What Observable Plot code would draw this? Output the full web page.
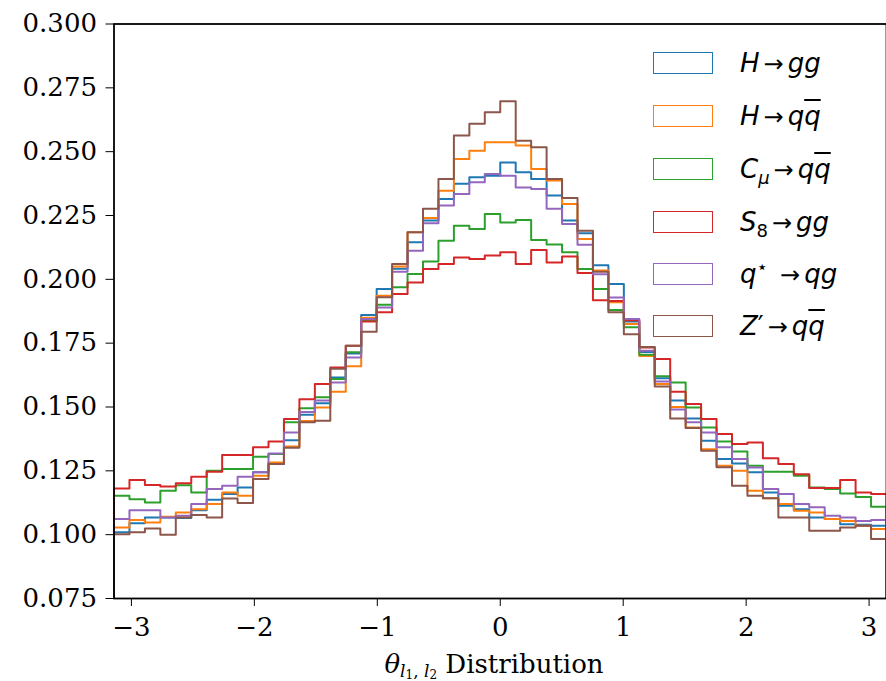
<!DOCTYPE html>
<html>
<head>
<meta charset="utf-8">
<script src="https://cdn.jsdelivr.net/npm/d3@7"></script>
<script src="https://cdn.jsdelivr.net/npm/@observablehq/plot@0.6"></script>
<style>
  body { margin: 0; background: #fff; }
  #wrap { position: relative; width: 886px; height: 681px; overflow: hidden; background: #fff; }
  .row { position: absolute; left: 653px; height: 40px; display: flex; align-items: center; }
  .box { width: 60px; height: 22px; box-sizing: border-box; border: 1.8px solid; }
  .lab { position: absolute; left: 87px; white-space: nowrap; font-family: "DejaVu Sans", sans-serif; font-size: 26px; color: #000; }
  .lab i { font-style: italic; }
  .ov { text-decoration: overline; }
  .ar { margin: 0 4px; font-size: 24px; }
  sub, sup { font-size: 18px; line-height: 0; }
</style>
</head>
<body>
<div id="wrap"></div>
<script>
// ---- data (bin heights; 50 bins on [-pi, pi]) ----
const names = ["H→gg", "H→qq̄", "Cμ→qq̄", "S8→gg", "q*→qg", "Z′→qq̄"];
const colors = ["#1f77b4", "#ff7f0e", "#2ca02c", "#d62728", "#9467bd", "#8c564b"];

const hgg = [0.1009, 0.1045, 0.1067, 0.1067, 0.1065, 0.1096, 0.1137, 0.1159, 0.1185, 0.1244,
  0.1277, 0.1370, 0.1470, 0.1515, 0.1616, 0.1710, 0.1860, 0.1962, 0.2041, 0.2145,
  0.2230, 0.2315, 0.2374, 0.2400, 0.2406, 0.2458, 0.2419, 0.2393, 0.2328, 0.2230,
  0.2180, 0.2055, 0.1982, 0.1835, 0.1715, 0.1613, 0.1525, 0.1455, 0.1368, 0.1296,
  0.1279, 0.1244, 0.1165, 0.1113, 0.1100, 0.1067, 0.1061, 0.1041, 0.1039, 0.1035];
const hqq = [0.1028, 0.1057, 0.1048, 0.1070, 0.1087, 0.1100, 0.1120, 0.1165, 0.1152, 0.1231,
  0.1283, 0.1345, 0.1445, 0.1498, 0.1560, 0.1660, 0.1850, 0.1936, 0.2050, 0.2184,
  0.2240, 0.2347, 0.2471, 0.2504, 0.2537, 0.2537, 0.2524, 0.2432, 0.2387, 0.2295,
  0.2158, 0.2035, 0.1910, 0.1825, 0.1700, 0.1590, 0.1500, 0.1420, 0.1335, 0.1270,
  0.1250, 0.1172, 0.1143, 0.1120, 0.1094, 0.1087, 0.1061, 0.1054, 0.1035, 0.1022];
const cmu = [0.1152, 0.1139, 0.1126, 0.1172, 0.1194, 0.1165, 0.1250, 0.1257, 0.1257, 0.1305,
  0.1316, 0.1440, 0.1495, 0.1538, 0.1610, 0.1714, 0.1840, 0.1900, 0.1969, 0.2021,
  0.2070, 0.2151, 0.2210, 0.2197, 0.2256, 0.2223, 0.2232, 0.2154, 0.2136, 0.2106,
  0.2040, 0.1962, 0.1880, 0.1812, 0.1705, 0.1620, 0.1596, 0.1498, 0.1420, 0.1365,
  0.1326, 0.1270, 0.1246, 0.1246, 0.1231, 0.1185, 0.1179, 0.1161, 0.1148, 0.1109];
const s8 = [0.1181, 0.1214, 0.1195, 0.1189, 0.1201, 0.1227, 0.1246, 0.1312, 0.1312, 0.1342,
  0.1365, 0.1453, 0.1530, 0.1590, 0.1655, 0.1740, 0.1835, 0.1871, 0.1943, 0.1988,
  0.2040, 0.2060, 0.2086, 0.2080, 0.2093, 0.2106, 0.2060, 0.2115, 0.2066, 0.2089,
  0.2025, 0.1918, 0.1915, 0.1840, 0.1733, 0.1688, 0.1560, 0.1512, 0.1453, 0.1394,
  0.1355, 0.1361, 0.1299, 0.1277, 0.1237, 0.1183, 0.1183, 0.1214, 0.1165, 0.1159];
const qstar = [0.1061, 0.1096, 0.1096, 0.1067, 0.1074, 0.1120, 0.1179, 0.1192, 0.1227, 0.1244,
  0.1318, 0.1400, 0.1480, 0.1525, 0.1596, 0.1694, 0.1845, 0.1890, 0.2030, 0.2112,
  0.2220, 0.2289, 0.2334, 0.2380, 0.2413, 0.2406, 0.2360, 0.2354, 0.2276, 0.2217,
  0.2135, 0.2020, 0.1929, 0.1845, 0.1720, 0.1600, 0.1490, 0.1440, 0.1400, 0.1342,
  0.1296, 0.1263, 0.1179, 0.1159, 0.1120, 0.1107, 0.1074, 0.1067, 0.1054, 0.1057];
const zprime = [0.1002, 0.1009, 0.1024, 0.1000, 0.1067, 0.1077, 0.1067, 0.1142, 0.1124, 0.1218,
  0.1277, 0.1340, 0.1440, 0.1446, 0.1650, 0.1740, 0.1795, 0.1930, 0.2060, 0.2184,
  0.2276, 0.2393, 0.2563, 0.2609, 0.2654, 0.2697, 0.2543, 0.2517, 0.2393, 0.2319,
  0.2190, 0.2030, 0.1871, 0.1785, 0.1735, 0.1580, 0.1455, 0.1418, 0.1329, 0.1264,
  0.1192, 0.1152, 0.1143, 0.1067, 0.1067, 0.1015, 0.1015, 0.1028, 0.1035, 0.0983];

const xTicks = [-3, -2, -1, 0, 1, 2, 3];
const yTicks = [0.075, 0.100, 0.125, 0.150, 0.175, 0.200, 0.225, 0.250, 0.275, 0.300];

// ---- build step outlines (histtype="step") ----
const lo = -Math.PI, hi = Math.PI;
const allSeries = [hgg, hqq, cmu, s8, qstar, zprime];
const nb = hgg.length;
const edges = d3.range(nb + 1).map(i => lo + (hi - lo) * i / nb);
const rows = [];
allSeries.forEach((vals, si) => {
  const s = names[si];
  rows.push({x: lo, y: 0, s});
  vals.forEach((v, i) => rows.push({x: edges[i], y: v, s}));
  rows.push({x: hi, y: vals[vals.length - 1], s});
  rows.push({x: hi, y: 0, s});
});

const chart = Plot.plot({
  width: 886,
  height: 681,
  marginTop: 23.5,
  marginBottom: 83,
  marginLeft: 113.5,
  marginRight: 0,
  style: {fontFamily: '"DejaVu Serif", serif', fontSize: "26px", color: "#000", background: "#fff"},
  x: {domain: [lo, hi], ticks: xTicks, tickFormat: d => d < 0 ? "\u2212" + Math.abs(d) : String(d),
      label: null, tickSize: 8, tickPadding: 11},
  y: {domain: [0.075, 0.3], ticks: yTicks, tickFormat: d3.format(".3f"), label: null, tickSize: 8, tickPadding: 9},
  color: {domain: names, range: colors},
  marks: [
    Plot.line(rows, {x: "x", y: "y", z: "s", stroke: "s", curve: "step-after", strokeWidth: 2, clip: true}),
    Plot.frame({stroke: "#000", strokeWidth: 1.8})
  ]
});

const wrap = document.getElementById("wrap");
wrap.appendChild(chart);

// x-axis label with math-style subscripts
const svg = d3.select(chart);
const t = svg.append("text")
  .attr("x", 494).attr("y", 673)
  .attr("text-anchor", "middle")
  .attr("font-family", '"DejaVu Serif", serif')
  .attr("font-size", 26)
  .attr("fill", "#000");
t.append("tspan").attr("font-style", "italic").text("θ");
t.append("tspan").attr("font-style", "italic").attr("font-size", 17).attr("dy", 4).text("l");
t.append("tspan").attr("font-size", 12).attr("dy", 2).text("1");
t.append("tspan").attr("font-size", 17).attr("dy", -2).text(", ");
t.append("tspan").attr("font-style", "italic").attr("font-size", 17).text("l");
t.append("tspan").attr("font-size", 12).attr("dy", 2).text("2");
t.append("tspan").attr("dy", -6).text(" Distribution");

// legend (unfilled patch boxes like matplotlib step histograms)
const labels = [
  '<i>H</i><span class="ar">→</span><i>gg</i>',
  '<i>H</i><span class="ar">→</span><i>q</i><i class="ov">q</i>',
  '<i>C</i><sub><i>μ</i></sub><span class="ar">→</span><i>q</i><i class="ov">q</i>',
  '<i>S</i><sub>8</sub><span class="ar">→</span><i>gg</i>',
  '<i>q</i><sup>⋆</sup>&nbsp;<span class="ar">→</span><i>qg</i>',
  '<i>Z</i>′<span class="ar">→</span><i>q</i><i class="ov">q</i>'
];
const centers = [63, 116, 169, 222, 274, 326];
labels.forEach((html, i) => {
  const row = document.createElement("div");
  row.className = "row";
  row.style.top = (centers[i] - 20) + "px";
  const box = document.createElement("div");
  box.className = "box";
  box.style.borderColor = colors[i];
  const lab = document.createElement("div");
  lab.className = "lab";
  lab.innerHTML = html;
  row.appendChild(box);
  row.appendChild(lab);
  wrap.appendChild(row);
});
</script>
</body>
</html>
